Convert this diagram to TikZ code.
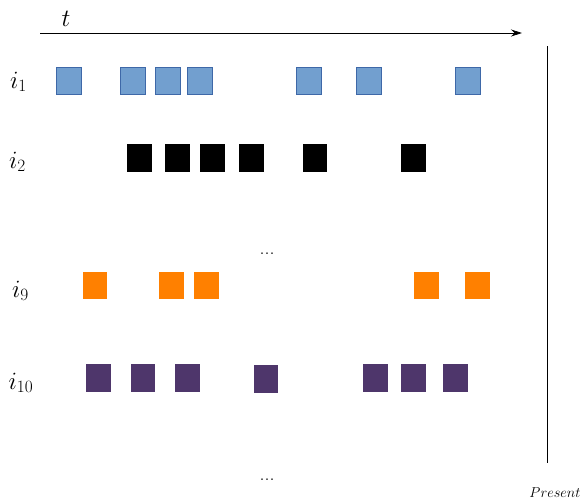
\documentclass[tikz,border=0pt]{standalone}
\usetikzlibrary{arrows.meta}
\definecolor{cblue}{RGB}{114,159,207}
\definecolor{cblueb}{RGB}{62,104,168}
\definecolor{corange}{RGB}{255,128,0}
\definecolor{cpurple}{RGB}{78,54,107}
\begin{document}
\begin{tikzpicture}[x=1pt,y=-1pt,
  box/.style={minimum width=24.5pt,minimum height=27pt,inner sep=0pt,outer sep=0pt},
  bluebox/.style={box,fill=cblue,draw=cblueb,line width=0.6pt},
  blackbox/.style={box,fill=black,minimum height=28pt},
  orangebox/.style={box,fill=corange},
  purplebox/.style={box,fill=cpurple,minimum height=28pt},
  lab/.style={font=\fontsize{25}{30}\selectfont,inner sep=0pt,anchor=base},
  dotslab/.style={font=\fontsize{20}{24}\selectfont,inner sep=0pt}]
\useasboundingbox (0,0) rectangle (584,501);
% time axis
\coordinate (a0) at (40,33);
\coordinate (a1) at (522,33);
\draw[line width=0.8pt,-{Stealth[length=11pt,width=7pt]}] (a0) -- (a1);
\node[lab] (t) at (66,26) {$t$};
% present line
\coordinate (p0) at (547,46);
\coordinate (p1) at (547,463);
\draw[line width=0.8pt] (p0) -- (p1);
\node[inner sep=0pt,anchor=base,font=\fontsize{15}{18}\selectfont] (present) at (555,497) {$Present$};
% labels
\node[lab] (l1) at (18.5,88) {$i_1$};
\node[lab] (l2) at (17.5,168) {$i_2$};
\node[lab] (l9) at (20.5,297) {$i_9$};
\node[lab] (l10) at (21,389) {$i_{10}$};
\node[dotslab] (d1) at (267,254) {...};
\node[dotslab] (d2) at (267,480) {...};
% row i1
\foreach \x [count=\k] in {69,133,168,200,309,369,468}
  \node[bluebox] (b\k) at (\x,80.5) {};
% row i2
\foreach \x [count=\k] in {139.5,177.5,212.5,251.5,315,413.5}
  \node[blackbox] (k\k) at (\x,157.5) {};
% row i9
\foreach \x [count=\k] in {95,171.5,206.5,426.5,477.5}
  \node[orangebox] (o\k) at (\x,285.5) {};
% row i10
\foreach \x/\y [count=\k] in {98.5/378,143/378,187.5/378,266/379,375.5/378,413.5/378,455.5/378}
  \node[purplebox] (u\k) at (\x,\y) {};
\end{tikzpicture}
\end{document}
